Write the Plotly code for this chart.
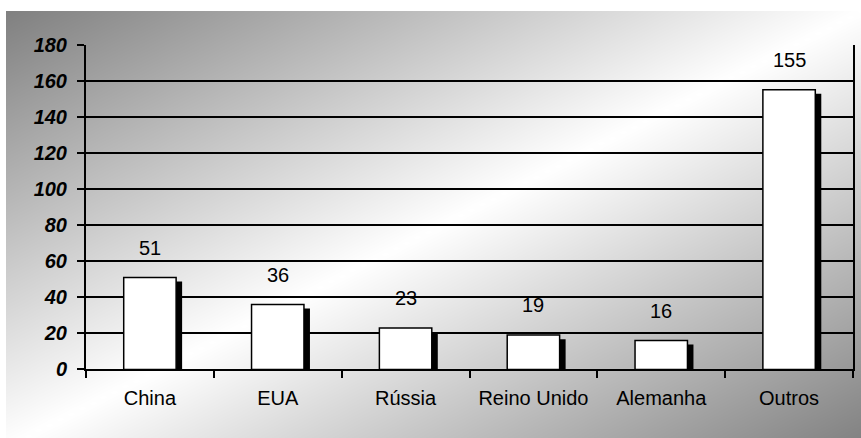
import numpy as np
import plotly.graph_objects as go

categories = ["China", "EUA", "Rússia", "Reino Unido", "Alemanha", "Outros"]
values = [51, 36, 23, 19, 16, 155]
y_ticks = [0, 20, 40, 60, 80, 100, 120, 140, 160, 180]

W, H = 861, 458
# vertical calibration of the rendered page (observed = A + S * figure_y)
A, S = 12.6, 0.944
def fy(y):
    return (y - A) / S

# plot area in (target) pixels
PL, PR = 86, 853
PT, PB = fy(46), fy(368)
BG_L, BG_T = 6, 0
YMAX = 180
px_per_unit = (PB - PT) / YMAX
px_per_cat = (PR - PL) / len(categories)

bar_w = 0.41
shadow_dx = 6 / px_per_cat
shadow_dy = (4 / S) / px_per_unit
shadow_values = [v - shadow_dy for v in values]

FONT = "Liberation Sans, Arial"
FS = 20

# background gradient (diagonal: dark at top-left & bottom-right, white along anti-diagonal)
n = 80
u = np.linspace(0, 1, n)
v = np.linspace(0, 1, n)
U, V = np.meshgrid(u, v)
Z = 1 - np.abs(U + V - 1)  # 1 = white, 0 = dark

fig = go.Figure()
fig.add_trace(go.Heatmap(
    z=Z, x=u, y=v, zsmooth="best", showscale=False, hoverinfo="skip",
    colorscale=[[0, "rgb(128,128,128)"], [1, "rgb(255,255,255)"]],
    zmin=0, zmax=1, xaxis="x", yaxis="y",
))

fig.add_trace(go.Bar(
    x=categories, y=shadow_values, width=bar_w, offset=-bar_w / 2 + shadow_dx,
    marker=dict(color="black", line=dict(width=0)),
    xaxis="x2", yaxis="y2", hoverinfo="skip", showlegend=False,
))
fig.add_trace(go.Bar(
    x=categories, y=values, width=bar_w, offset=-bar_w / 2,
    marker=dict(color="white", line=dict(color="black", width=1.5)),
    xaxis="x2", yaxis="y2", showlegend=False,
))

for c, val in zip(categories, values):
    fig.add_annotation(
        x=c, y=val, xref="x2", yref="y2", text=str(val), showarrow=False,
        yanchor="middle", yshift=28 / S,
        font=dict(family=FONT, size=FS, color="black"),
    )

fig.update_layout(
    width=W, height=H,
    margin=dict(l=0, r=0, t=0, b=0),
    paper_bgcolor="white",
    plot_bgcolor="rgba(0,0,0,0)",
    barmode="overlay",
    showlegend=False,
    xaxis=dict(domain=[BG_L / W, 1], range=[0, 1], visible=False, fixedrange=True),
    yaxis=dict(domain=[0, 1 - BG_T / H], range=[1, 0], visible=False, fixedrange=True),
    xaxis2=dict(
        domain=[PL / W, PR / W], anchor="y2", type="category",
        range=[-0.5, len(categories) - 0.5],
        showline=True, linecolor="black", linewidth=2,
        ticks="outside", ticklen=7, tickwidth=1.5, tickcolor="black",
        tickson="boundaries", showgrid=False,
        tickfont=dict(family=FONT, size=FS, color="black"),
        ticklabelstandoff=10,
    ),
    yaxis2=dict(
        domain=[1 - PB / H, 1 - PT / H], anchor="x2",
        range=[0, YMAX], tickvals=y_ticks,
        showline=True, linecolor="black", linewidth=2, mirror=True,
        ticks="outside", ticklen=7, tickwidth=1.5, tickcolor="black",
        showgrid=True, gridcolor="black", gridwidth=2, zeroline=False,
        tickfont=dict(family=FONT, size=FS, color="black",
                      weight="bold", style="italic"),
        ticklabelstandoff=6,
    ),
)

fig.write_html(
    "out.html",
    config={"displayModeBar": False},
    post_script="document.body.style.margin='0';document.body.style.overflow='hidden';",
)
